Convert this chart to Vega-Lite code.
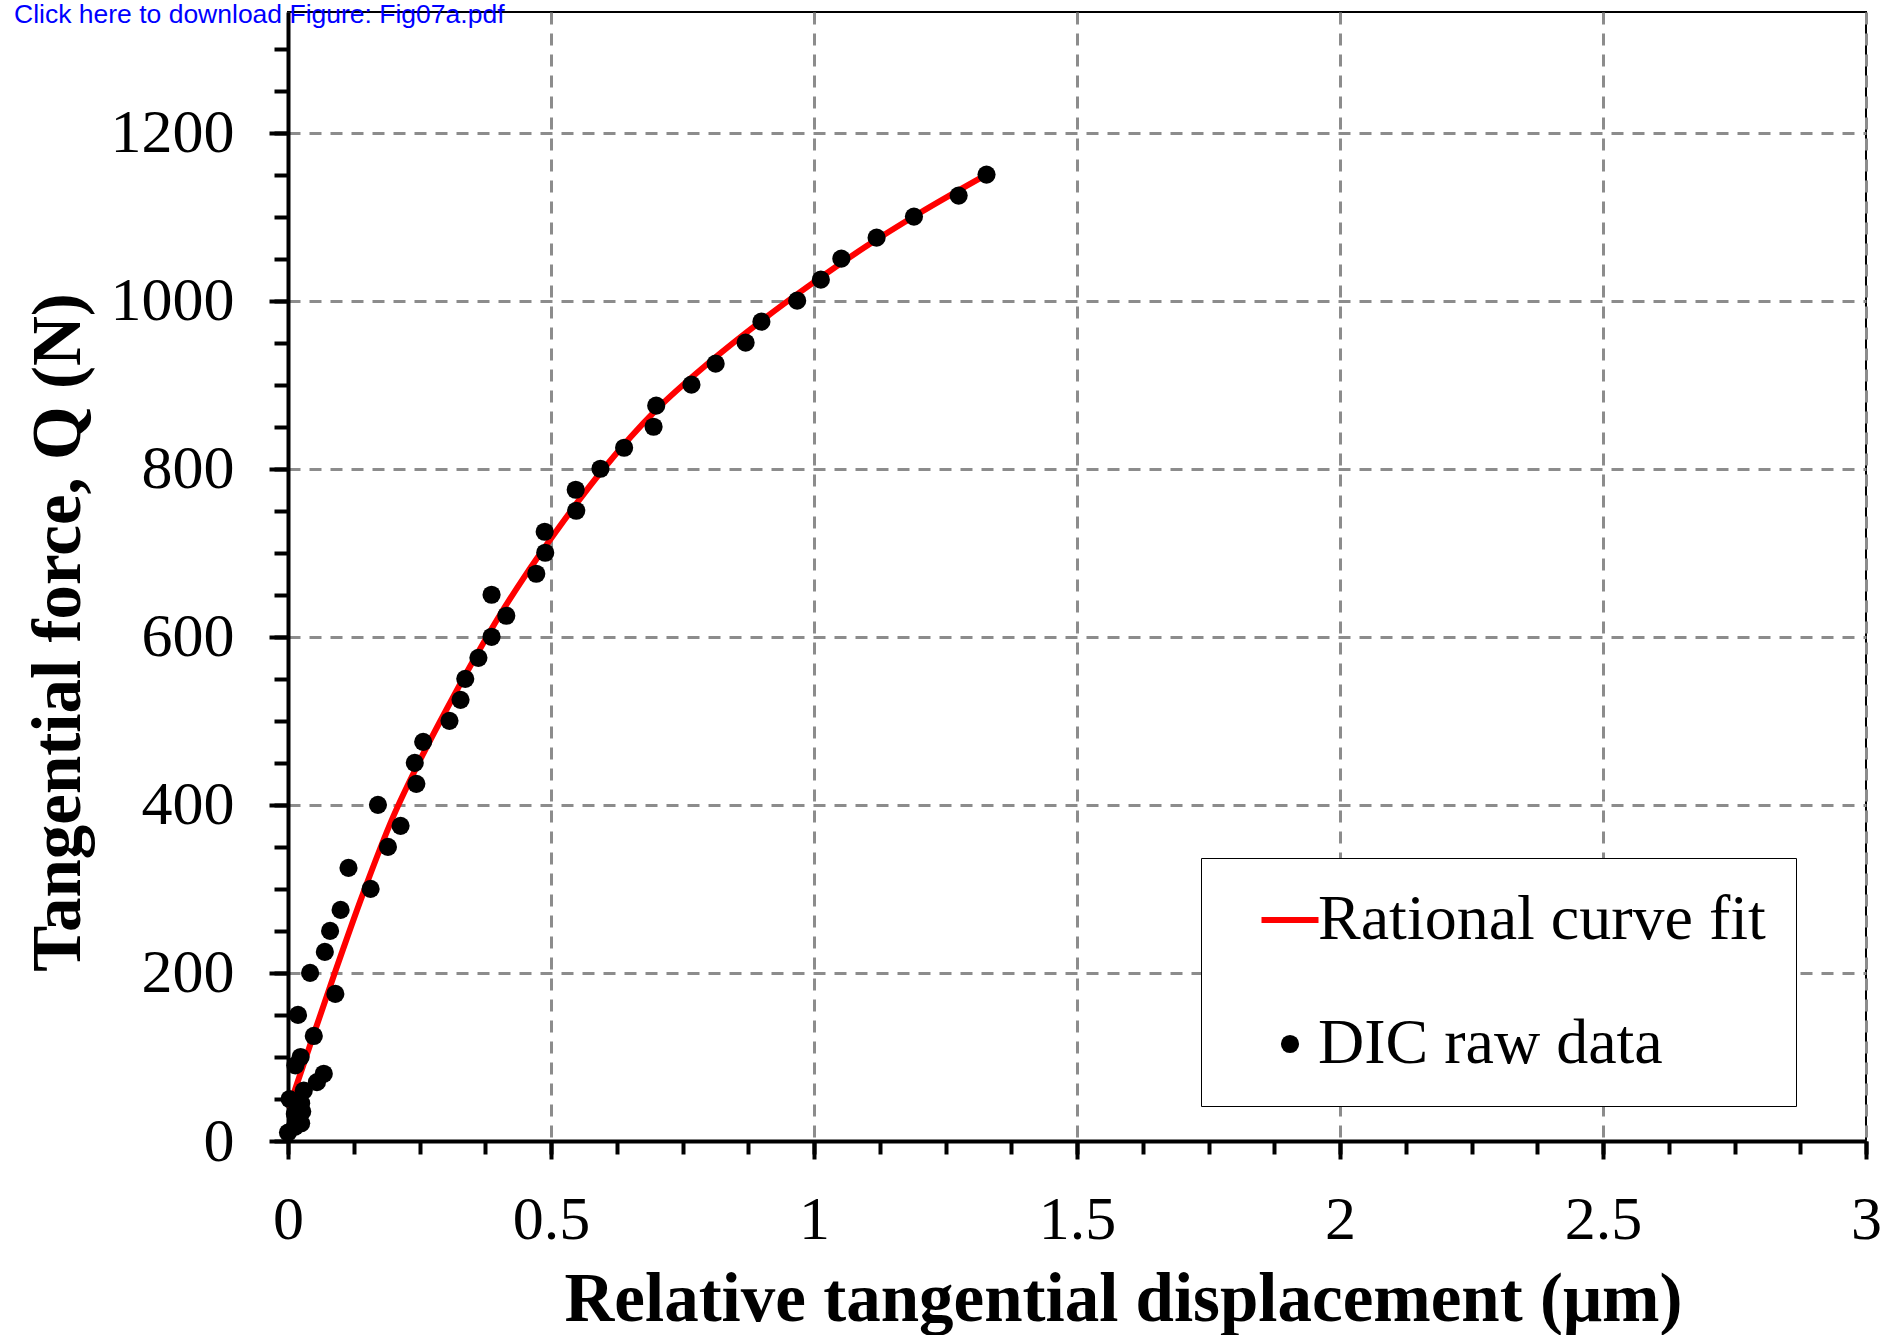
{
  "$schema": "https://vega.github.io/schema/vega-lite/v6.json",
  "width": 1578,
  "height": 1129,
  "autosize": {"type": "none"},
  "padding": {"left": 288, "top": 12, "right": 16, "bottom": 194},
  "background": "white",
  "title": {
    "text": "Click here to download Figure: Fig07a.pdf",
    "anchor": "start",
    "frame": "group",
    "font": "Liberation Sans",
    "fontSize": 26.5,
    "fontWeight": "normal",
    "color": "#0000ff",
    "baseline": "alphabetic",
    "offset": -37,
    "dx": -274
  },
  "config": {
    "view": {"stroke": "black", "strokeWidth": 2},
    "font": "Liberation Serif"
  },
  "datasets": {
    "curve": [
      {"x": 0.003, "y": 42, "series": "Rational curve fit"},
      {"x": 0.016, "y": 66, "series": "Rational curve fit"},
      {"x": 0.05, "y": 129, "series": "Rational curve fit"},
      {"x": 0.09, "y": 202, "series": "Rational curve fit"},
      {"x": 0.143, "y": 295, "series": "Rational curve fit"},
      {"x": 0.2, "y": 386, "series": "Rational curve fit"},
      {"x": 0.25, "y": 452, "series": "Rational curve fit"},
      {"x": 0.3, "y": 512, "series": "Rational curve fit"},
      {"x": 0.35, "y": 569, "series": "Rational curve fit"},
      {"x": 0.4, "y": 623, "series": "Rational curve fit"},
      {"x": 0.45, "y": 672, "series": "Rational curve fit"},
      {"x": 0.5, "y": 717, "series": "Rational curve fit"},
      {"x": 0.6, "y": 800, "series": "Rational curve fit"},
      {"x": 0.7, "y": 870, "series": "Rational curve fit"},
      {"x": 0.8, "y": 926, "series": "Rational curve fit"},
      {"x": 0.9, "y": 976, "series": "Rational curve fit"},
      {"x": 1.0, "y": 1022, "series": "Rational curve fit"},
      {"x": 1.1, "y": 1065, "series": "Rational curve fit"},
      {"x": 1.2, "y": 1104, "series": "Rational curve fit"},
      {"x": 1.328, "y": 1150, "series": "Rational curve fit"}
    ],
    "dic": [
      {"x": 0.0, "y": 10, "series": "DIC raw data"},
      {"x": 0.013, "y": 17, "series": "DIC raw data"},
      {"x": 0.025, "y": 21, "series": "DIC raw data"},
      {"x": 0.013, "y": 32, "series": "DIC raw data"},
      {"x": 0.027, "y": 35, "series": "DIC raw data"},
      {"x": 0.025, "y": 45, "series": "DIC raw data"},
      {"x": 0.003, "y": 50, "series": "DIC raw data"},
      {"x": 0.03, "y": 60, "series": "DIC raw data"},
      {"x": 0.055, "y": 70, "series": "DIC raw data"},
      {"x": 0.068, "y": 80, "series": "DIC raw data"},
      {"x": 0.014, "y": 90, "series": "DIC raw data"},
      {"x": 0.024, "y": 100, "series": "DIC raw data"},
      {"x": 0.049, "y": 125, "series": "DIC raw data"},
      {"x": 0.019, "y": 150, "series": "DIC raw data"},
      {"x": 0.09, "y": 175, "series": "DIC raw data"},
      {"x": 0.042, "y": 200, "series": "DIC raw data"},
      {"x": 0.07, "y": 225, "series": "DIC raw data"},
      {"x": 0.08, "y": 250, "series": "DIC raw data"},
      {"x": 0.10, "y": 275, "series": "DIC raw data"},
      {"x": 0.157, "y": 300, "series": "DIC raw data"},
      {"x": 0.115, "y": 325, "series": "DIC raw data"},
      {"x": 0.19, "y": 350, "series": "DIC raw data"},
      {"x": 0.214, "y": 375, "series": "DIC raw data"},
      {"x": 0.171, "y": 400, "series": "DIC raw data"},
      {"x": 0.244, "y": 425, "series": "DIC raw data"},
      {"x": 0.241, "y": 450, "series": "DIC raw data"},
      {"x": 0.257, "y": 475, "series": "DIC raw data"},
      {"x": 0.307, "y": 500, "series": "DIC raw data"},
      {"x": 0.328, "y": 525, "series": "DIC raw data"},
      {"x": 0.337, "y": 550, "series": "DIC raw data"},
      {"x": 0.362, "y": 575, "series": "DIC raw data"},
      {"x": 0.387, "y": 600, "series": "DIC raw data"},
      {"x": 0.415, "y": 625, "series": "DIC raw data"},
      {"x": 0.387, "y": 650, "series": "DIC raw data"},
      {"x": 0.472, "y": 675, "series": "DIC raw data"},
      {"x": 0.489, "y": 700, "series": "DIC raw data"},
      {"x": 0.488, "y": 725, "series": "DIC raw data"},
      {"x": 0.548, "y": 750, "series": "DIC raw data"},
      {"x": 0.547, "y": 775, "series": "DIC raw data"},
      {"x": 0.594, "y": 800, "series": "DIC raw data"},
      {"x": 0.639, "y": 825, "series": "DIC raw data"},
      {"x": 0.695, "y": 850, "series": "DIC raw data"},
      {"x": 0.700, "y": 875, "series": "DIC raw data"},
      {"x": 0.767, "y": 900, "series": "DIC raw data"},
      {"x": 0.813, "y": 925, "series": "DIC raw data"},
      {"x": 0.870, "y": 950, "series": "DIC raw data"},
      {"x": 0.900, "y": 975, "series": "DIC raw data"},
      {"x": 0.968, "y": 1000, "series": "DIC raw data"},
      {"x": 1.013, "y": 1025, "series": "DIC raw data"},
      {"x": 1.052, "y": 1050, "series": "DIC raw data"},
      {"x": 1.119, "y": 1075, "series": "DIC raw data"},
      {"x": 1.190, "y": 1100, "series": "DIC raw data"},
      {"x": 1.275, "y": 1125, "series": "DIC raw data"},
      {"x": 1.328, "y": 1150, "series": "DIC raw data"}
    ]
  },
  "layer": [
    {
      "data": {"name": "curve"},
      "mark": {"type": "line", "color": "#ff0000", "strokeWidth": 6, "interpolate": "monotone", "strokeCap": "round"},
      "encoding": {
        "x": {
          "field": "x", "type": "quantitative",
          "scale": {"domain": [0, 3], "nice": false, "zero": false},
          "axis": {
            "orient": "bottom",
            "values": [0, 0.125, 0.25, 0.375, 0.5, 0.625, 0.75, 0.875, 1, 1.125, 1.25, 1.375, 1.5, 1.625, 1.75, 1.875, 2, 2.125, 2.25, 2.375, 2.5, 2.625, 2.75, 2.875, 3],
            "labels": false, "grid": false, "domain": false,
            "ticks": true, "tickSize": 13, "tickWidth": 4, "tickColor": "black",
            "title": null
          }
        },
        "y": {
          "field": "y", "type": "quantitative",
          "scale": {"domain": [0, 1343.5], "nice": false, "zero": false},
          "axis": {
            "orient": "left",
            "values": [0, 50, 100, 150, 200, 250, 300, 350, 400, 450, 500, 550, 600, 650, 700, 750, 800, 850, 900, 950, 1000, 1050, 1100, 1150, 1200, 1250, 1300],
            "labels": false, "grid": false, "domain": false,
            "ticks": true, "tickSize": 14, "tickWidth": 4, "tickColor": "black",
            "title": null
          }
        }
      }
    },
    {
      "data": {"name": "dic"},
      "mark": {"type": "point", "filled": true, "opacity": 1},
      "encoding": {
        "x": {
          "field": "x", "type": "quantitative",
          "scale": {"domain": [0, 3], "nice": false, "zero": false},
          "axis": {
            "orient": "bottom",
            "values": [0, 0.5, 1, 1.5, 2, 2.5, 3],
            "format": "~g",
            "grid": true, "gridColor": "#8c8c8c", "gridDash": [12, 9], "gridWidth": 3,
            "domain": true, "domainColor": "black", "domainWidth": 4,
            "ticks": true, "tickSize": 18, "tickWidth": 4, "tickColor": "black",
            "labelFont": "Liberation Serif", "labelFontSize": 62, "labelColor": "black",
            "labelPadding": 79, "labelBaseline": "alphabetic", "labelFlush": false, "labelOverlap": false,
            "title": "Relative tangential displacement (μm)",
            "titleFont": "Liberation Serif", "titleFontSize": 69, "titleFontWeight": "bold", "titleColor": "black",
            "titleX": 835, "titleY": 179, "titleAlign": "center", "titleBaseline": "alphabetic"
          }
        },
        "y": {
          "field": "y", "type": "quantitative",
          "scale": {"domain": [0, 1343.5], "nice": false, "zero": false},
          "axis": {
            "orient": "left",
            "values": [0, 200, 400, 600, 800, 1000, 1200],
            "format": "d",
            "grid": true, "gridColor": "#8c8c8c", "gridDash": [12, 9], "gridWidth": 3,
            "domain": true, "domainColor": "black", "domainWidth": 4,
            "ticks": true, "tickSize": 19, "tickWidth": 4, "tickColor": "black",
            "labelFont": "Liberation Serif", "labelFontSize": 62, "labelColor": "black",
            "labelPadding": 35, "labelBaseline": "middle", "labelOverlap": false,
            "title": "Tangential force, Q (N)",
            "titleFont": "Liberation Serif", "titleFontSize": 69, "titleFontWeight": "bold", "titleColor": "black",
            "titleX": -209, "titleY": 620, "titleAngle": 270, "titleAlign": "center", "titleBaseline": "alphabetic"
          }
        },
        "fill": {
          "field": "series", "type": "nominal",
          "scale": {"domain": ["Rational curve fit", "DIC raw data"], "range": ["#ff0000", "#000000"]},
          "legend": {
            "orient": "none", "legendX": 913, "legendY": 846,
            "title": null,
            "strokeColor": "black", "fillColor": "white",
            "padding": 30,
            "labelFont": "Liberation Serif", "labelFontSize": 64, "labelColor": "black",
            "labelOffset": -4, "labelLimit": 1000,
            "rowPadding": 60,
            "symbolOffset": 27
          }
        },
        "stroke": {
          "field": "series", "type": "nominal",
          "scale": {"domain": ["Rational curve fit", "DIC raw data"], "range": ["#ff0000", "#000000"]},
          "legend": {
            "orient": "none", "legendX": 913, "legendY": 846,
            "title": null,
            "strokeColor": "black", "fillColor": "white",
            "padding": 30,
            "labelFont": "Liberation Serif", "labelFontSize": 64, "labelColor": "black",
            "labelOffset": -4, "labelLimit": 1000,
            "rowPadding": 60,
            "symbolOffset": 27
          }
        },
        "shape": {
          "field": "series", "type": "nominal",
          "scale": {"domain": ["Rational curve fit", "DIC raw data"], "range": ["stroke", "circle"]},
          "legend": {
            "orient": "none", "legendX": 913, "legendY": 846,
            "title": null,
            "strokeColor": "black", "fillColor": "white",
            "padding": 30,
            "labelFont": "Liberation Serif", "labelFontSize": 64, "labelColor": "black",
            "labelOffset": -4, "labelLimit": 1000,
            "rowPadding": 60,
            "symbolOffset": 27
          }
        },
        "size": {
          "field": "series", "type": "nominal",
          "scale": {"domain": ["Rational curve fit", "DIC raw data"], "range": [3249, 330]},
          "legend": {
            "orient": "none", "legendX": 913, "legendY": 846,
            "title": null,
            "strokeColor": "black", "fillColor": "white",
            "padding": 30,
            "labelFont": "Liberation Serif", "labelFontSize": 64, "labelColor": "black",
            "labelOffset": -4, "labelLimit": 1000,
            "rowPadding": 60,
            "symbolOffset": 27
          }
        },
        "strokeWidth": {
          "field": "series", "type": "nominal",
          "scale": {"domain": ["Rational curve fit", "DIC raw data"], "range": [6, 0]},
          "legend": {
            "orient": "none", "legendX": 913, "legendY": 846,
            "title": null,
            "strokeColor": "black", "fillColor": "white",
            "padding": 30,
            "labelFont": "Liberation Serif", "labelFontSize": 64, "labelColor": "black",
            "labelOffset": -4, "labelLimit": 1000,
            "rowPadding": 60,
            "symbolOffset": 27
          }
        }
      }
    }
  ],
  "resolve": {"axis": {"x": "independent", "y": "independent"}}
}
